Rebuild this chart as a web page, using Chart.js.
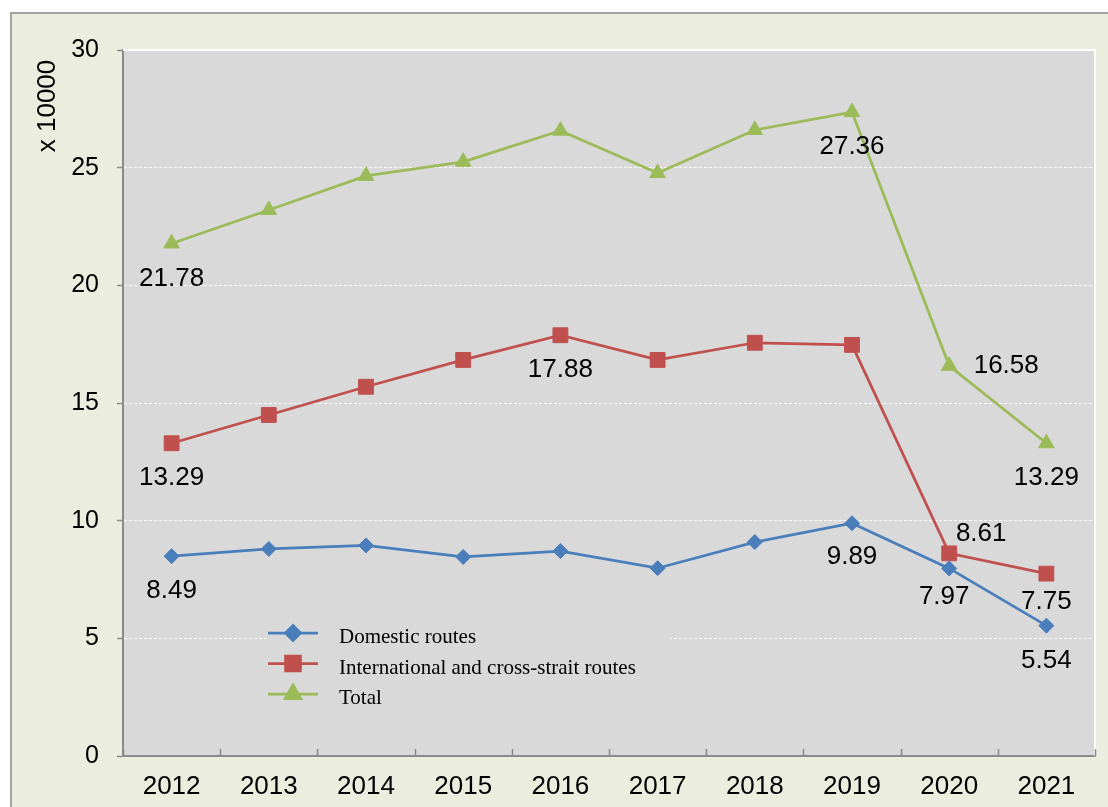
<!DOCTYPE html>
<html>
<head>
<meta charset="utf-8">
<title>Routes</title>
<script src="https://cdn.jsdelivr.net/npm/chart.js@4.4.0/dist/chart.umd.min.js"></script>
<style>
  html, body { margin: 0; padding: 0; background: #fff; overflow: hidden; }
  #moldura { position: absolute; left: 10px; top: 12px; width: 1200px; height: 900px; background: #ebeedf; border: 2px solid #a3a3a3; }
  #grafico { position: absolute; left: 0; top: 0; }
</style>
</head>
<body>
<div id="moldura"></div>
<canvas id="grafico" width="1108" height="807"></canvas>
<script>
const anos = ['2012', '2013', '2014', '2015', '2016', '2017', '2018', '2019', '2020', '2021'];
const domesticas = [8.49, 8.80, 8.95, 8.46, 8.71, 7.98, 9.09, 9.89, 7.97, 5.54];
const internacionais = [13.29, 14.49, 15.69, 16.83, 17.88, 16.83, 17.56, 17.47, 8.61, 7.75];
const totais = [21.78, 23.20, 24.65, 25.25, 26.57, 24.77, 26.60, 27.36, 16.58, 13.29];
const nomesSeries = ['Domestic routes', 'International and cross-strait routes', 'Total'];
const marcasEixoY = [0, 5, 10, 15, 20, 25, 30];

const FONTE = "'Liberation Sans', Arial, sans-serif";
const FONTE_LEGENDA = "'Liberation Serif', 'Times New Roman', serif";
const CINZA_EIXO = '#8a8a8a';

// quais pontos levam rótulo e para onde o texto é deslocado
const rotulos = [
  { serie: 2, idx: 0, dx: 0, dy: 35 },
  { serie: 2, idx: 7, dx: 0, dy: 35 },
  { serie: 2, idx: 8, dx: 57, dy: 0 },
  { serie: 2, idx: 9, dx: 0, dy: 35 },
  { serie: 1, idx: 0, dx: 0, dy: 35 },
  { serie: 1, idx: 4, dx: 0, dy: 35 },
  { serie: 1, idx: 8, dx: 32, dy: -20 },
  { serie: 1, idx: 9, dx: 0, dy: 28 },
  { serie: 0, idx: 0, dx: 0, dy: 35 },
  { serie: 0, idx: 7, dx: 0, dy: 34 },
  { serie: 0, idx: 8, dx: -5, dy: 28 },
  { serie: 0, idx: 9, dx: 0, dy: 35 }
];

function desenhaMarcador(ctx, ds, x, y) {
  ctx.save();
  ctx.fillStyle = ds.pointBackgroundColor;
  ctx.strokeStyle = ds.pointBorderColor;
  Chart.helpers.drawPoint(ctx, {
    pointStyle: ds.pointStyle,
    radius: ds.pointRadius,
    rotation: 0,
    borderWidth: ds.pointBorderWidth
  }, x, y);
  ctx.restore();
}

const fundoArea = {
  id: 'fundoArea',
  beforeDraw(chart) {
    const { ctx, chartArea: a } = chart;
    ctx.save();
    ctx.fillStyle = '#d9d9d9';
    ctx.fillRect(a.left, a.top, a.right - a.left, a.bottom - a.top);
    ctx.restore();
  },
  beforeDatasetsDraw(chart) {
    const { ctx, chartArea: a, scales } = chart;
    ctx.save();
    // borda branca em cima e à direita
    ctx.strokeStyle = '#ffffff';
    ctx.lineWidth = 2;
    ctx.beginPath();
    ctx.moveTo(a.left, a.top);
    ctx.lineTo(a.right, a.top);
    ctx.lineTo(a.right, a.bottom);
    ctx.stroke();
    // marcas do eixo x voltadas para dentro, entre as categorias
    const x = scales.x;
    const passo = x.getPixelForValue(1) - x.getPixelForValue(0);
    ctx.strokeStyle = CINZA_EIXO;
    ctx.lineWidth = 1.5;
    ctx.beginPath();
    for (let i = 0; i <= anos.length; i++) {
      const px = Math.round(x.getPixelForValue(0) - passo / 2 + i * passo) + 0.5;
      ctx.moveTo(px, a.bottom);
      ctx.lineTo(px, a.bottom - 7);
    }
    ctx.stroke();
    ctx.restore();
  }
};

const rotulosValores = {
  id: 'rotulosValores',
  afterDatasetsDraw(chart) {
    const ctx = chart.ctx;
    ctx.save();
    ctx.font = '26px ' + FONTE;
    ctx.fillStyle = '#000';
    ctx.textAlign = 'center';
    ctx.textBaseline = 'middle';
    rotulos.forEach(r => {
      const ponto = chart.getDatasetMeta(r.serie).data[r.idx];
      const valor = chart.data.datasets[r.serie].data[r.idx];
      ctx.fillText(valor.toFixed(2), ponto.x + r.dx, ponto.y + r.dy);
    });
    ctx.restore();
  }
};

const legendaInterna = {
  id: 'legendaInterna',
  afterDatasetsDraw(chart) {
    const ctx = chart.ctx;
    ctx.save();
    ctx.fillStyle = '#d9d9d9';
    ctx.fillRect(266, 617, 404, 98);
    ctx.font = '21px ' + FONTE_LEGENDA;
    ctx.textAlign = 'left';
    ctx.textBaseline = 'alphabetic';
    chart.data.datasets.forEach((ds, i) => {
      const y = 633 + i * 30.5;
      ctx.strokeStyle = ds.borderColor;
      ctx.lineWidth = ds.borderWidth;
      ctx.beginPath();
      ctx.moveTo(268, y);
      ctx.lineTo(318, y);
      ctx.stroke();
      desenhaMarcador(ctx, ds, 293, y);
      ctx.fillStyle = '#000';
      ctx.fillText(ds.label, 339, y + 10);
    });
    ctx.restore();
  }
};

const tituloEixoY = {
  id: 'tituloEixoY',
  afterDraw(chart) {
    const ctx = chart.ctx;
    ctx.save();
    ctx.translate(48, 106);
    ctx.rotate(-Math.PI / 2);
    ctx.font = '26px ' + FONTE;
    ctx.fillStyle = '#000';
    ctx.textAlign = 'center';
    ctx.textBaseline = 'middle';
    ctx.fillText('x 10000', 0, 0);
    ctx.restore();
  }
};

function serie(label, data, cor, estilo, raio) {
  return {
    label: label,
    data: data,
    borderColor: cor,
    backgroundColor: cor,
    borderWidth: 2.75,
    pointStyle: estilo,
    pointRadius: raio,
    pointBackgroundColor: cor,
    pointBorderColor: cor,
    pointBorderWidth: 1,
    tension: 0
  };
}

new Chart(document.getElementById('grafico').getContext('2d'), {
  type: 'line',
  data: {
    labels: anos,
    datasets: [
      serie(nomesSeries[0], domesticas, '#4a7ebb', 'rectRot', 7.5),
      serie(nomesSeries[1], internacionais, '#c0504d', 'rect', 10.5),
      serie(nomesSeries[2], totais, '#9bbb59', 'triangle', 9)
    ]
  },
  options: {
    responsive: false,
    devicePixelRatio: 1,
    animation: false,
    events: [],
    layout: { padding: { top: 50, right: 13, left: 0, bottom: 0 } },
    plugins: {
      legend: { display: false },
      tooltip: { enabled: false }
    },
    scales: {
      x: {
        offset: true,
        grid: { display: false, drawTicks: false },
        border: { display: true, color: CINZA_EIXO, width: 2 },
        ticks: { color: '#000', font: { family: FONTE, size: 26 }, padding: 15, maxRotation: 0 },
        afterFit(escala) { escala.height = 51; }
      },
      y: {
        min: 0,
        max: 30,
        afterBuildTicks(escala) { escala.ticks = marcasEixoY.map(v => ({ value: v })); },
        grid: { color: '#ffffff', lineWidth: 1, tickColor: CINZA_EIXO, tickLength: 6, tickWidth: 1.5 },
        border: { display: true, color: CINZA_EIXO, width: 2, dash: [3, 2] },
        ticks: { color: '#000', font: { family: FONTE, size: 25 }, padding: 18 },
        afterFit(escala) { escala.width = 123; }
      }
    }
  },
  plugins: [fundoArea, rotulosValores, legendaInterna, tituloEixoY]
});
</script>
</body>
</html>
